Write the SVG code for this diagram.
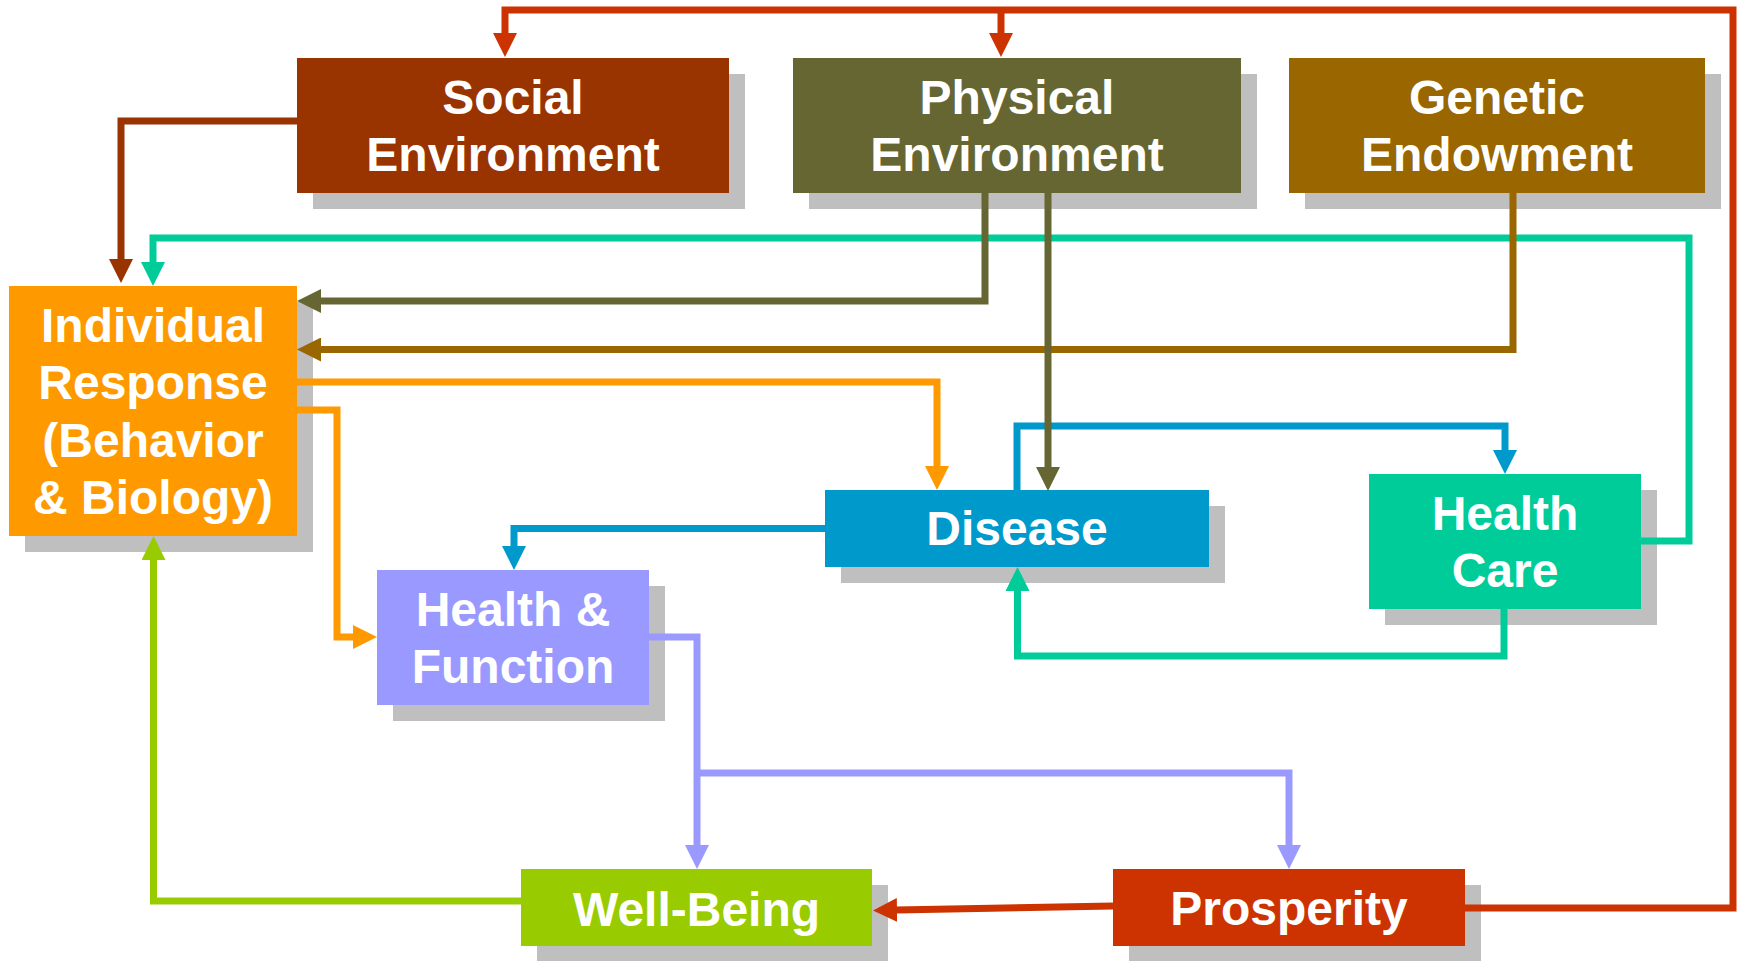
<svg xmlns="http://www.w3.org/2000/svg" width="1742" height="961" viewBox="0 0 1742 961">
<style>
.shadow{fill:#BFBFBF}
.lbl{fill:#FFFFFF;font-family:"Liberation Sans",Arial,sans-serif;font-weight:bold;font-size:48px;text-anchor:middle}
.c{fill:none;stroke-width:7;stroke-linejoin:miter;stroke-linecap:butt}
</style>
<defs>
<marker id="m-red" viewBox="0 0 24 24" refX="1" refY="12" markerWidth="24" markerHeight="24" markerUnits="userSpaceOnUse" orient="auto"><path d="M0,0 L24,12 L0,24 Z" fill="#CC3300"/></marker>
<marker id="m-brown" viewBox="0 0 24 24" refX="1" refY="12" markerWidth="24" markerHeight="24" markerUnits="userSpaceOnUse" orient="auto"><path d="M0,0 L24,12 L0,24 Z" fill="#993300"/></marker>
<marker id="m-teal" viewBox="0 0 24 24" refX="1" refY="12" markerWidth="24" markerHeight="24" markerUnits="userSpaceOnUse" orient="auto"><path d="M0,0 L24,12 L0,24 Z" fill="#00CC99"/></marker>
<marker id="m-olive" viewBox="0 0 24 24" refX="1" refY="12" markerWidth="24" markerHeight="24" markerUnits="userSpaceOnUse" orient="auto"><path d="M0,0 L24,12 L0,24 Z" fill="#666633"/></marker>
<marker id="m-gold" viewBox="0 0 24 24" refX="1" refY="12" markerWidth="24" markerHeight="24" markerUnits="userSpaceOnUse" orient="auto"><path d="M0,0 L24,12 L0,24 Z" fill="#996600"/></marker>
<marker id="m-orange" viewBox="0 0 24 24" refX="1" refY="12" markerWidth="24" markerHeight="24" markerUnits="userSpaceOnUse" orient="auto"><path d="M0,0 L24,12 L0,24 Z" fill="#FF9900"/></marker>
<marker id="m-blue" viewBox="0 0 24 24" refX="1" refY="12" markerWidth="24" markerHeight="24" markerUnits="userSpaceOnUse" orient="auto"><path d="M0,0 L24,12 L0,24 Z" fill="#0099CC"/></marker>
<marker id="m-lav" viewBox="0 0 24 24" refX="1" refY="12" markerWidth="24" markerHeight="24" markerUnits="userSpaceOnUse" orient="auto"><path d="M0,0 L24,12 L0,24 Z" fill="#9999FF"/></marker>
<marker id="m-green" viewBox="0 0 24 24" refX="1" refY="12" markerWidth="24" markerHeight="24" markerUnits="userSpaceOnUse" orient="auto"><path d="M0,0 L24,12 L0,24 Z" fill="#99CC00"/></marker>
</defs>
<rect x="0" y="0" width="1742" height="961" fill="#FFFFFF"/>

<g id="social">
<rect class="shadow" x="313" y="74" width="432" height="135"/>
<rect x="297" y="58" width="432" height="135" fill="#993300"/>
<text class="lbl" x="513" y="114">Social</text>
<text class="lbl" x="513" y="171">Environment</text>
</g>
<g id="physical">
<rect class="shadow" x="809" y="74" width="448" height="135"/>
<rect x="793" y="58" width="448" height="135" fill="#666633"/>
<text class="lbl" x="1017" y="114">Physical</text>
<text class="lbl" x="1017" y="171">Environment</text>
</g>
<g id="genetic">
<rect class="shadow" x="1305" y="74" width="416" height="135"/>
<rect x="1289" y="58" width="416" height="135" fill="#996600"/>
<text class="lbl" x="1497" y="114">Genetic</text>
<text class="lbl" x="1497" y="171">Endowment</text>
</g>
<g id="individual">
<rect class="shadow" x="25" y="302" width="288" height="250"/>
<rect x="9" y="286" width="288" height="250" fill="#FF9900"/>
<text class="lbl" x="153" y="342">Individual</text>
<text class="lbl" x="153" y="399">Response</text>
<text class="lbl" x="153" y="457">(Behavior</text>
<text class="lbl" x="153" y="514">&amp; Biology)</text>
</g>
<g id="disease">
<rect class="shadow" x="841" y="506" width="384" height="77"/>
<rect x="825" y="490" width="384" height="77" fill="#0099CC"/>
<text class="lbl" x="1017" y="545">Disease</text>
</g>
<g id="healthcare">
<rect class="shadow" x="1385" y="490" width="272" height="135"/>
<rect x="1369" y="474" width="272" height="135" fill="#00CC99"/>
<text class="lbl" x="1505" y="530">Health</text>
<text class="lbl" x="1505" y="587">Care</text>
</g>
<g id="healthfunction">
<rect class="shadow" x="393" y="586" width="272" height="135"/>
<rect x="377" y="570" width="272" height="135" fill="#9999FF"/>
<text class="lbl" x="513" y="626">Health &amp;</text>
<text class="lbl" x="513" y="683">Function</text>
</g>
<g id="wellbeing">
<rect class="shadow" x="537" y="885" width="351" height="77"/>
<rect x="521" y="869" width="351" height="77" fill="#99CC00"/>
<text class="lbl" x="696.5" y="926">Well-Being</text>
</g>
<g id="prosperity">
<rect class="shadow" x="1129" y="885" width="352" height="77"/>
<rect x="1113" y="869" width="352" height="77" fill="#CC3300"/>
<text class="lbl" x="1289" y="925">Prosperity</text>
</g>

<g id="connectors">
<path class="c" stroke="#00CC99" d="M1641,541 H1689 V238 H153 V263" marker-end="url(#m-teal)"/>
<path class="c" stroke="#CC3300" d="M1464,908 H1733 V10 H505 V34" marker-end="url(#m-red)"/>
<path class="c" stroke="#CC3300" d="M1001,10 V34" marker-end="url(#m-red)"/>
<path class="c" stroke="#CC3300" d="M1113,906 L896,910" marker-end="url(#m-red)"/>
<path class="c" stroke="#993300" d="M297,121 H121 V260" marker-end="url(#m-brown)"/>
<path class="c" stroke="#996600" d="M1513,193 V349.5 H320" marker-end="url(#m-gold)"/>
<path class="c" stroke="#666633" d="M985,193 V301 H320" marker-end="url(#m-olive)"/>
<path class="c" stroke="#FF9900" d="M297,382 H937 V467" marker-end="url(#m-orange)"/>
<path class="c" stroke="#FF9900" d="M297,410 H337 V637 H354" marker-end="url(#m-orange)"/>
<path class="c" stroke="#0099CC" d="M825,528.5 H514 V547" marker-end="url(#m-blue)"/>
<path class="c" stroke="#0099CC" d="M1017,490 V426 H1505 V451" marker-end="url(#m-blue)"/>
<path class="c" stroke="#666633" d="M1048,193 V468" marker-end="url(#m-olive)"/>
<path class="c" stroke="#00CC99" d="M1504,609 V656 H1017.5 V590" marker-end="url(#m-teal)"/>
<path class="c" stroke="#9999FF" d="M649,637 H697 V846" marker-end="url(#m-lav)"/>
<path class="c" stroke="#9999FF" d="M697,773 H1289 V846" marker-end="url(#m-lav)"/>
<path class="c" stroke="#99CC00" d="M521,901 H153.5 V559" marker-end="url(#m-green)"/>
</g>
</svg>
